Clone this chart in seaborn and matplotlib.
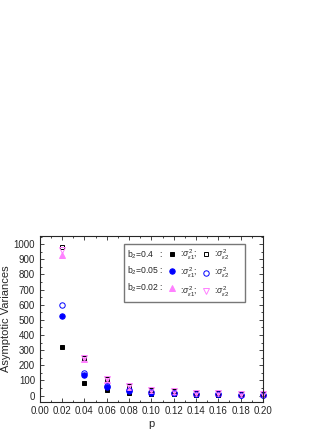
import numpy as np
import pandas as pd
import matplotlib
matplotlib.use("Agg")
import matplotlib.pyplot as plt
from matplotlib.lines import Line2D
from matplotlib.ticker import MultipleLocator, FormatStrFormatter
import seaborn as sns

##### Daten #####

p = [0.02, 0.04, 0.06, 0.08, 0.10, 0.12, 0.14, 0.16, 0.18, 0.20]

# b2 = 0.4
var1_b04 = [318, 82, 35, 18, 12, 8, 6, 4, 3, 2]
var2_b04 = [978, 245, 108, 60, 38, 27, 20, 15, 12, 10]
# b2 = 0.05
var1_b005 = [527, 135, 55, 30, 20, 14, 10, 8, 6, 5]
var2_b005 = [600, 150, 66, 37, 24, 17, 12, 9, 7, 6]
# b2 = 0.02
var1_b002 = [930, 240, 105, 58, 37, 26, 19, 14, 11, 9]
var2_b002 = [960, 245, 108, 60, 38, 27, 20, 15, 12, 10]

b2_labels = ["b$_2$=0.4   :", "b$_2$=0.05 :", "b$_2$=0.02 :"]
lab1 = r":$\sigma^2_{\varepsilon1}$;"
lab2 = r":$\sigma^2_{\varepsilon2}$"

##### Plot #####

sns.set_style("ticks")
plt.rcParams['font.family'] = ['Liberation Sans', 'DejaVu Sans']
plt.rcParams['mathtext.fontset'] = 'custom'
plt.rcParams['mathtext.rm'] = 'Liberation Sans'
plt.rcParams['mathtext.it'] = 'Liberation Sans:italic'

fig = plt.figure(figsize=(3.32, 4.30), dpi=100)
ax = fig.add_axes([0.12, 0.066, 0.672, 0.385])

pink = "#ff80ff"
series = [
    (var1_b04, "s", "black", True),
    (var1_b005, "o", "#0000ff", True),
    (var1_b002, "^", pink, True),
    (var2_b04, "s", "black", False),
    (var2_b005, "o", "#0000ff", False),
    (var2_b002, "v", pink, False),
]
msize = {"s": 3.4, "o": 3.9, "^": 4.3, "v": 4.3}

handles = []
for vals, m, c, filled in series:
    df = pd.DataFrame({"p": p, "v": vals})
    kw = dict(marker=m, linestyle="", color=c, markeredgecolor=c,
              markersize=msize[m], markeredgewidth=0.7, clip_on=False)
    if not filled:
        kw["markerfacecolor"] = "none"
    sns.lineplot(data=df, x="p", y="v", ax=ax, **kw)
    handles.append(Line2D([], [], **kw))

blank = [Line2D([], [], linestyle="", marker="") for _ in range(3)]
leg_handles = handles[:3] + handles[3:] + blank
leg_labels = b2_labels + [lab1] * 3 + [lab2] * 3
ax.legend(leg_handles, leg_labels, ncol=3, markerfirst=False, loc="upper left",
          bbox_to_anchor=(0.375, 0.955), fontsize=6.2, frameon=True, fancybox=False,
          edgecolor="#555555", handlelength=0.9, handletextpad=0.5,
          columnspacing=0.5, borderpad=0.45, labelspacing=0.5,
          borderaxespad=0)

ax.set_xlim(0, 0.20)
ax.set_ylim(-40, 1053)
ax.xaxis.set_major_locator(MultipleLocator(0.02))
ax.xaxis.set_minor_locator(MultipleLocator(0.01))
ax.xaxis.set_major_formatter(FormatStrFormatter("%.2f"))
ax.yaxis.set_major_locator(MultipleLocator(100))
ax.yaxis.set_minor_locator(MultipleLocator(50))
ax.set_yticks(np.arange(0, 1001, 100))
ax.tick_params(which="both", direction="in", top=True, right=True, labelsize=7)
ax.tick_params(which="major", length=3, width=0.6)
ax.tick_params(which="minor", length=1.5, width=0.6)
for s in ax.spines.values():
    s.set_linewidth(0.8)

ax.set_xlabel("p", fontsize=8, labelpad=2)
ax.set_ylabel("Asymptotic Variances", fontsize=8, labelpad=2)

plt.savefig("out.png", dpi=100)
